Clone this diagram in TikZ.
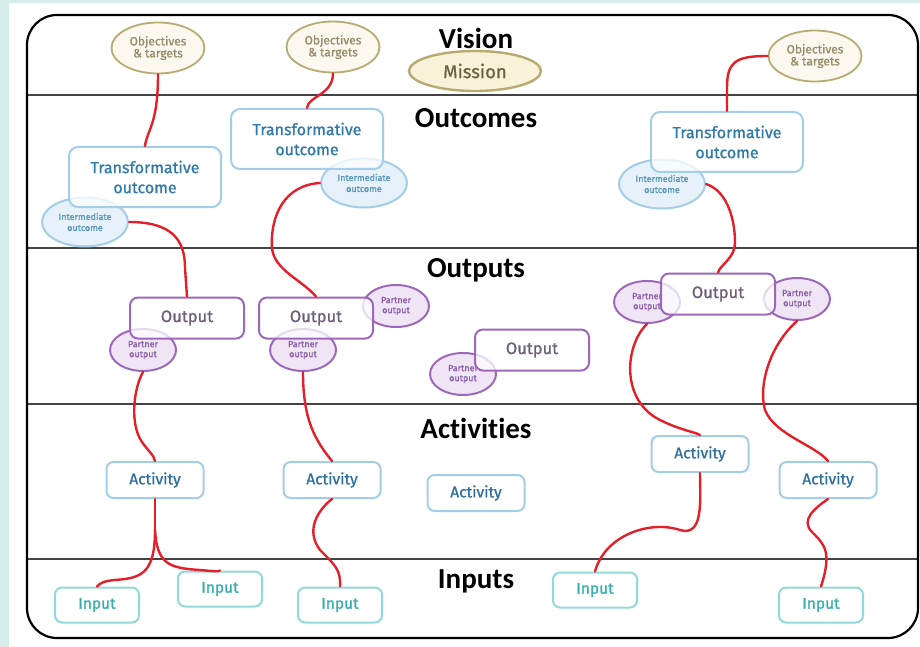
\documentclass[tikz,border=0pt]{standalone}
\usepackage{fontspec}
\setmainfont{Carlito}[Ligatures=NoCommon]
\newfontfamily\boxfont{Fira Sans}[FakeBold=0.9]
\usetikzlibrary{shapes.geometric}
\definecolor{bgteal}{HTML}{D5EEEC}
\definecolor{olive}{HTML}{B8AB72}
\definecolor{olivetext}{HTML}{958B6A}
\definecolor{missiontext}{HTML}{6B6440}
\definecolor{objfill}{HTML}{FBF9EF}
\definecolor{missfill}{HTML}{F7F2D8}
\definecolor{bluestroke}{HTML}{A4CDE8}
\definecolor{bluetext}{HTML}{2F7AA8}
\definecolor{iofill}{HTML}{E6F1F9}
\definecolor{purple1}{HTML}{9E68BA}
\definecolor{outtext}{HTML}{6E5F78}
\definecolor{potext}{HTML}{8A5FA5}
\definecolor{pofill}{HTML}{EFE5F4}
\definecolor{acttext}{HTML}{2F6F9F}
\definecolor{tealstroke}{HTML}{92DADA}
\definecolor{tealtext}{HTML}{35AEB0}
\definecolor{redline}{HTML}{E3202A}
\definecolor{bandline}{HTML}{444444}
\begin{document}
\begin{tikzpicture}[x=1pt,y=-1pt,
  heading/.style={font=\fontsize{29}{31}\selectfont\bfseries, text=black, inner sep=0pt},
  objell/.style={ellipse, draw=olive, line width=1.8pt, fill=objfill, minimum width=93pt, minimum height=51pt, inner sep=0pt, align=center, text=olivetext, font=\boxfont\fontsize{12}{12}\selectfont},
  missell/.style={ellipse, draw=olive, line width=2.4pt, fill=missfill, minimum width=132pt, minimum height=40pt, inner sep=0pt, text=missiontext, font=\boxfont\fontsize{18.5}{20}\selectfont},
  tobox/.style={rectangle, rounded corners=9pt, draw=bluestroke, line width=2pt, fill=white, fill opacity=0.75, text opacity=1, minimum width=152pt, minimum height=60pt, inner sep=0pt, align=center, text=bluetext, font=\boxfont\fontsize{16}{20}\selectfont},
  ioell/.style={ellipse, draw=bluestroke, line width=2pt, fill=iofill, minimum width=86pt, minimum height=49pt, inner sep=0pt, align=center, text=bluetext!80, font=\boxfont\fontsize{9}{11}\selectfont},
  outbox/.style={rectangle, rounded corners=8pt, draw=purple1, line width=2pt, fill=white, fill opacity=0.75, text opacity=1, minimum width=114pt, minimum height=41pt, inner sep=0pt, text=outtext, font=\boxfont\fontsize{16.5}{20}\selectfont},
  poell/.style={ellipse, draw=purple1, line width=2pt, fill=pofill, minimum width=66pt, minimum height=42pt, inner sep=0pt, align=center, text=potext, font=\boxfont\fontsize{9}{10}\selectfont},
  actbox/.style={rectangle, rounded corners=7pt, draw=bluestroke, line width=2pt, fill=white, minimum width=97pt, minimum height=36pt, inner sep=0pt, text=acttext, font=\boxfont\fontsize{15.5}{18}\selectfont},
  inbox/.style={rectangle, rounded corners=7pt, draw=tealstroke, line width=2pt, fill=white, minimum width=84pt, minimum height=35pt, inner sep=0pt, text=tealtext, font=\boxfont\fontsize{15.5}{18}\selectfont},
  conn/.style={draw=redline, line width=2.4pt, line cap=round}
]
\useasboundingbox (0,0) rectangle (920,647);
\fill[bgteal] (0,0) rectangle (920,647);
\fill[white] (9,3) rectangle (920,647);
% frame and bands
\draw[bandline, line width=1.6pt] (27,95) -- (918,95);
\draw[bandline, line width=1.6pt] (27,248) -- (918,248);
\draw[bandline, line width=1.6pt] (27,404) -- (918,404);
\draw[bandline, line width=1.6pt] (27,559) -- (918,559);
\draw[black, line width=2.2pt, rounded corners=30pt] (27,15) rectangle (918,638);
% headings
\node[heading] (hvision) at (476,38) {Vision};
\node[heading] (houtcomes) at (476,118) {Outcomes};
\node[heading] (houtputs) at (476,270) {Outputs};
\node[heading] (hactivities) at (476,428) {Activities};
\node[heading] (hinputs) at (476,581) {Inputs};
% vision band
\node[objell] (obj1) at (158,48) {Objectives\\\& targets};
\node[objell] (obj2) at (333,47) {Objectives\\\& targets};
\node[objell] (obj3) at (815,56) {Objectives\\\& targets};
\node[missell] (mission) at (475,71) {Mission};
% outcomes band
\node[ioell] (io1) at (85,222) {Intermediate\\outcome};
\node[ioell] (io2) at (364,183) {Intermediate\\outcome};
\node[ioell] (io3) at (662,184) {Intermediate\\outcome};
\node[tobox] (to1) at (145,177) {Transformative\\outcome};
\node[tobox] (to2) at (307,139) {Transformative\\outcome};
\node[tobox] (to3) at (727,142) {Transformative\\outcome};
% outputs band
\node[poell] (po1) at (143,350) {Partner\\output};
\node[poell] (po2a) at (396,306) {Partner\\output};
\node[poell] (po2b) at (303,350) {Partner\\output};
\node[poell] (po4) at (463,374) {Partner\\output};
\node[poell] (po3a) at (647,302) {Partner\\output};
\node[poell] (po3b) at (797,299) {Partner\\output};
\node[outbox] (out1) at (187,318) {Output};
\node[outbox] (out2) at (316,318) {Output};
\node[outbox] (out4) at (532,350) {Output};
\node[outbox] (out3) at (718,294) {Output};
% activities band
\node[actbox] (act1) at (155,480) {Activity};
\node[actbox] (act2) at (332,480) {Activity};
\node[actbox] (act3) at (476,493) {Activity};
\node[actbox] (act4) at (700,454) {Activity};
\node[actbox] (act5) at (828,480) {Activity};
% inputs band
\node[inbox] (in1) at (97,605) {Input};
\node[inbox] (in2) at (220,589) {Input};
\node[inbox] (in3) at (340,605) {Input};
\node[inbox] (in4) at (595,590) {Input};
\node[inbox] (in5) at (821,605) {Input};
% connectors
\draw[conn] (obj1.south) .. controls (158,125) and (147,130) .. (to1.north);
\draw[conn] (obj2.south) .. controls (333,95) and (308,96) .. (to2.north);
\draw[conn] (obj3.west) .. controls (735,56) and (727,62) .. (727,88) -- (to3.north);
\draw[conn] (io1.east) .. controls (172,222) and (185,240) .. (185,268) -- (out1.north);
\draw[conn] (io2.west) .. controls (285,185) and (270,215) .. (272,248) .. controls (274,270) and (302,280) .. (out2.north);
\draw[conn] (io3.east) .. controls (725,190) and (735,215) .. (735,243) .. controls (735,258) and (720,265) .. (out3.north);
\draw[conn] (po1.south) .. controls (133,390) and (130,425) .. (142,442) .. controls (148,451) and (154,455) .. (act1.north);
\draw[conn] (po2b.south) .. controls (303,420) and (315,440) .. (act2.north);
\draw[conn] (po3a.south) .. controls (625,345) and (620,400) .. (660,420) .. controls (680,430) and (695,432) .. (act4.north);
\draw[conn] (po3b.south) .. controls (770,345) and (758,385) .. (765,410) .. controls (775,435) and (815,445) .. (act5.north);
\coordinate (split1) at (155,530);
\draw[conn] (act1.south) -- (split1);
\draw[conn] (split1) .. controls (155,575) and (140,578) .. (115,580) .. controls (104,581) and (100,583) .. (in1.north);
\draw[conn] (split1) .. controls (157,565) and (170,568) .. (200,570) .. controls (212,571) and (219,572) .. (in2.north);
\draw[conn] (act2.south) .. controls (318,510) and (305,530) .. (320,550) .. controls (335,565) and (341,570) .. (in3.north);
\draw[conn] (act4.south) .. controls (700,500) and (704,537) .. (680,530) .. controls (650,520) and (605,535) .. (in4.north);
\draw[conn] (act5.south) .. controls (815,508) and (800,520) .. (812,532) .. controls (825,545) and (832,552) .. (in5.north);
\end{tikzpicture}
\end{document}
